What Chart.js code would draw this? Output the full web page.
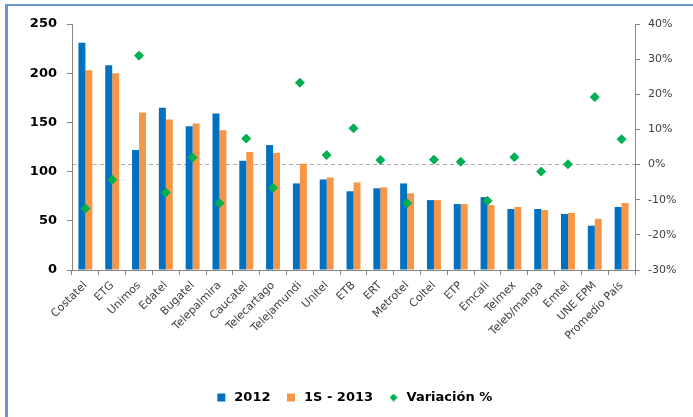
<!DOCTYPE html>
<html lang="es">
<head>
<meta charset="utf-8">
<script src="https://cdn.jsdelivr.net/npm/chart.js@4.4.1/dist/chart.umd.min.js"></script>
<style>
    html, body { margin: 0; padding: 0; background: #fff; }
    body { width: 693px; height: 417px; position: relative; overflow: hidden; }
    #marco {
        position: absolute; left: 5px; top: 4px; width: 720px; height: 440px;
        border-left: 3px solid #6E96CF; border-top: 2px solid #6E96CF; box-sizing: border-box;
    }
    #wrap { position: absolute; left: 0; top: 0; width: 693px; height: 417px; }
</style>
</head>
<body>
<div id="marco"></div>
<div id="wrap"><canvas id="chartOperadores" width="693" height="417"></canvas></div>
<script>
// Datos
const categorias = ['Costatel', 'ETG', 'Unimos', 'Edatel', 'Bugatel', 'Telepalmira', 'Caucatel',
    'Telecartago', 'Telejamundi', 'Unitel', 'ETB', 'ERT', 'Metrotel', 'Coltel', 'ETP', 'Emcali',
    'Telmex', 'Teleb/manga', 'Emtel', 'UNE EPM', 'Promedio País'];
const valores2012 = [231, 208, 122, 165, 146, 159, 111, 127, 88, 92, 80, 83, 88, 71, 67, 74, 62, 62, 57, 45, 64];
const valores2013 = [203, 200, 160, 153, 149, 142, 120, 119, 108, 94, 89, 84, 78, 71, 67, 66, 64, 61, 58, 52, 68];
const variacion = [-12.5, -4.3, 31, -8, 2, -11, 7.4, -6.6, 23.3, 2.7, 10.3, 1.3, -11, 1.4, 0.8, -10.3, 2.1, -2, 0.1, 19.2, 7.2];
const ticksIzq = [0, 50, 100, 150, 200, 250];
const ticksDer = [-30, -20, -10, 0, 10, 20, 30, 40];

document.addEventListener('DOMContentLoaded', () => {
    const ctx = document.getElementById('chartOperadores').getContext('2d');
    const gris = '#868686';
    const verde = '#00B050';

    // rombo pequeño para la leyenda
    const rombo = document.createElement('canvas');
    rombo.width = 8; rombo.height = 8;
    const rc = rombo.getContext('2d');
    rc.fillStyle = verde;
    rc.beginPath();
    rc.moveTo(4, 0); rc.lineTo(8, 4); rc.lineTo(4, 8); rc.lineTo(0, 4);
    rc.closePath();
    rc.fill();

    new Chart(ctx, {
        type: 'bar',
        data: {
            labels: categorias,
            datasets: [
                {
                    label: '2012',
                    data: valores2012,
                    backgroundColor: '#0070C0',
                    yAxisID: 'y',
                    pointStyle: 'rect',
                    order: 2
                },
                {
                    label: '1S - 2013',
                    data: valores2013,
                    backgroundColor: '#F79646',
                    yAxisID: 'y',
                    pointStyle: 'rect',
                    order: 2
                },
                {
                    type: 'line',
                    label: 'Variación %',
                    data: variacion,
                    yAxisID: 'y1',
                    showLine: false,
                    pointStyle: 'rectRot',
                    pointRadius: 4.5,
                    backgroundColor: verde,
                    borderColor: verde,
                    borderWidth: 1,
                    order: 1
                }
            ]
        },
        options: {
            responsive: false,
            animation: false,
            layout: { padding: { top: 24, left: 14, right: 0, bottom: 3 } },
            datasets: {
                bar: { categoryPercentage: 0.52, barPercentage: 1 }
            },
            plugins: {
                legend: {
                    position: 'bottom',
                    labels: {
                        usePointStyle: true,
                        boxHeight: 8,
                        padding: 14,
                        color: '#000',
                        font: { family: 'DejaVu Sans', size: 13, weight: 'bold' },
                        sort: (a, b) => a.datasetIndex - b.datasetIndex,
                        generateLabels: (chart) => {
                            const items = Chart.defaults.plugins.legend.labels.generateLabels(chart);
                            items.forEach(it => { if (it.datasetIndex === 2) it.pointStyle = rombo; });
                            return items;
                        }
                    }
                },
                tooltip: { enabled: false }
            },
            scales: {
                x: {
                    afterFit: (s) => { s.height = 107; },
                    grid: { drawOnChartArea: false, offset: true, tickLength: 5, color: gris },
                    border: { color: gris },
                    ticks: {
                        maxRotation: 45, minRotation: 45, padding: 4, autoSkip: false,
                        color: '#404040',
                        font: { family: 'DejaVu Sans', size: 11 }
                    }
                },
                y: {
                    position: 'left',
                    min: 0, max: 250,
                    afterFit: (s) => { s.width = 58; },
                    afterBuildTicks: (s) => { s.ticks = ticksIzq.map(v => ({ value: v })); },
                    grid: { drawOnChartArea: false, tickLength: 5, color: gris },
                    border: { color: gris },
                    ticks: {
                        padding: 10,
                        color: '#000',
                        font: { family: 'DejaVu Sans', size: 13, weight: 'bold' }
                    }
                },
                y1: {
                    position: 'right',
                    min: -30, max: 40,
                    afterFit: (s) => { s.width = 58; },
                    afterBuildTicks: (s) => { s.ticks = ticksDer.map(v => ({ value: v })); },
                    grid: {
                        drawOnChartArea: true,
                        tickLength: 5,
                        tickColor: gris,
                        color: (c) => (c.tick && c.tick.value === 0) ? '#ABABAB' : 'rgba(0,0,0,0)'
                    },
                    border: { color: gris, dash: [4, 3] },
                    ticks: {
                        padding: 8,
                        color: '#404040',
                        font: { family: 'DejaVu Sans', size: 11 },
                        callback: (v) => v + '%'
                    }
                }
            }
        }
    });
});
</script>
</body>
</html>
